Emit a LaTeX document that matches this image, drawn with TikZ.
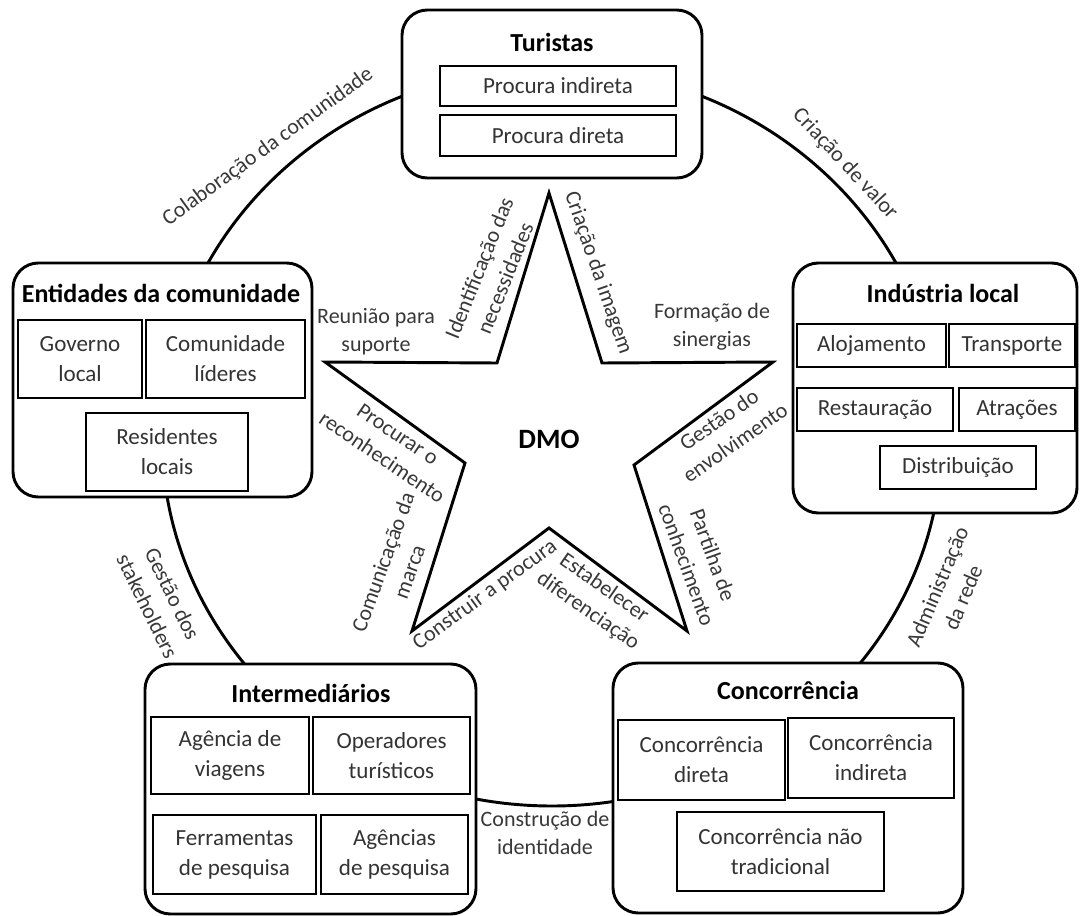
\documentclass[tikz,border=0pt]{standalone}
\usepackage{fontspec}
\setmainfont{Carlito}
\begin{document}
\begin{tikzpicture}[x=0.75pt,y=-0.75pt,
  sz/.style 2 args={minimum width=#1*0.75pt, minimum height=#2*0.75pt},
  group/.style={draw, line width=2.2pt, rounded corners=19pt, fill=white, inner sep=0pt},
  title/.style={inner sep=0pt, font=\fontsize{19.5}{23}\selectfont\bfseries},
  item/.style={draw, line width=1.3pt, fill=white, inner sep=0pt, align=center,
    text=black!80, font=\fontsize{17.3}{22.5}\selectfont},
  lbl/.style={inner sep=0pt, align=center, text=black!78,
    font=\fontsize{16.5}{21}\selectfont},
  ring/.style={line width=2.2pt},
  starline/.style={line width=2.2pt, line join=miter},
]
\useasboundingbox (0,0) rectangle (1085,916);

% outer ring joining the five stakeholder groups
\draw[ring] (552,437) ellipse [x radius=390, y radius=369];

% the five-pointed star around the DMO
\coordinate (sT)  at (549,193);
\coordinate (sTR) at (602,363);
\coordinate (sR)  at (773,362);
\coordinate (sRi) at (634,465);
\coordinate (sBR) at (687,631);
\coordinate (sB)  at (549,528);
\coordinate (sBL) at (412,631);
\coordinate (sLi) at (465,463);
\coordinate (sL)  at (325,362);
\coordinate (sTL) at (497,363);
\draw[starline] (sT) -- (sTR) -- (sR) -- (sRi) -- (sBR) -- (sB) -- (sBL)
  -- (sLi) -- (sL) -- (sTL) -- cycle;
\node[inner sep=0pt, font=\fontsize{21}{25}\selectfont\bfseries] (dmo) at (549,439) {DMO};

% star labels
\node[lbl, rotate=68]  (s1) at (492,273) {Identificação das\\necessidades};
\node[lbl, rotate=-71] (s2) at (598,273) {Criação da imagem};
\node[lbl]             (s3) at (376,332) {Reunião para\\suporte};
\node[lbl]             (s4) at (712,327) {Formação de\\sinergias};
\node[lbl, rotate=-34] (s5) at (390,446) {Procurar o\\reconhecimento};
\node[lbl, rotate=35]  (s6) at (727,431) {Gestão do\\envolvimento};
\node[lbl, rotate=70]  (s7) at (396,567) {Comunicação da\\marca};
\node[lbl, rotate=-70] (s8) at (700,560) {Partilha de\\conhecimento};
\node[lbl, rotate=36]  (s9) at (485,595) {Construir a procura};
\node[lbl, rotate=-35] (s10) at (596,600) {Estabelecer\\diferenciação};

% ring labels
\node[lbl, rotate=36]  (r1) at (268,147) {Colaboração da comunidade};
\node[lbl, rotate=-47] (r2) at (845,164) {Criação de valor};
\node[lbl, rotate=67]  (r3) at (950,592) {Administração\\da rede};
\node[lbl, rotate=-64] (r4) at (160,600) {Gestão dos\\stakeholders};
\node[lbl]             (r5) at (545,833) {Construção de\\identidade};

% Turistas
\node[group, sz={300}{168}] (tur) at (552,94) {};
\node[title] (turT) at (552,42) {Turistas};
\node[item, sz={236}{40}] (tur1) at (558,86) {Procura indireta};
\node[item, sz={236}{41}] (tur2) at (558,135.5) {Procura direta};

% Entidades da comunidade
\node[group, sz={299}{234}] (ent) at (162.5,380) {};
\node[title] (entT) at (161,293) {Entidades da comunidade};
\node[item, sz={124}{78}] (ent1) at (80,359) {Governo\\local};
\node[item, sz={159}{78}] (ent2) at (225.5,359) {Comunidade\\líderes};
\node[item, sz={162}{78}] (ent3) at (167,452) {Residentes\\locais};

% Indústria local
\node[group, sz={284}{250}] (ind) at (935,388) {};
\node[title] (indT) at (943,293) {Indústria local};
\node[item, sz={149}{43}] (ind1) at (871.5,345.5) {Alojamento};
\node[item, sz={126}{43}] (ind2) at (1012,345.5) {Transporte};
\node[item, sz={156}{43}] (ind3) at (875,409.5) {Restauração};
\node[item, sz={116}{43}] (ind4) at (1017,409.5) {Atrações};
\node[item, sz={156}{43}] (ind5) at (958,467.5) {Distribuição};

% Intermediários
\node[group, sz={331}{250}] (int) at (310.5,789) {};
\node[title] (intT) at (311,693) {Intermediários};
\node[item, sz={158}{77}] (int1) at (230,755.5) {Agência de\\viagens};
\node[item, sz={157}{77}] (int2) at (391.5,755.5) {Operadores\\turísticos};
\node[item, sz={163}{79}] (int3) at (234.5,854.5) {Ferramentas\\de pesquisa};
\node[item, sz={147}{79}] (int4) at (394.5,854.5) {Agências\\de pesquisa};

% Concorrência
\node[group, sz={350}{250}] (con) at (788,788) {};
\node[title] (conT) at (788,690) {Concorrência};
\node[item, sz={167}{80}] (con1) at (701.5,760) {Concorrência\\direta};
\node[item, sz={166}{80}] (con2) at (871,758) {Concorrência\\indireta};
\node[item, sz={207}{79}] (con3) at (780.5,851.5) {Concorrência não\\tradicional};
\end{tikzpicture}
\end{document}
